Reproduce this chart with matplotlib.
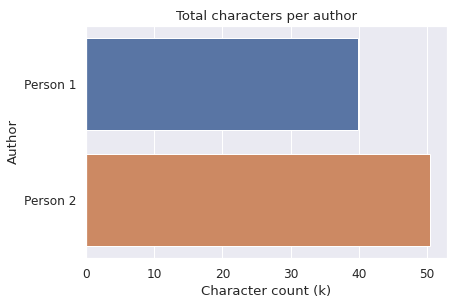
import matplotlib
matplotlib.use("Agg")
import matplotlib.pyplot as plt
import seaborn as sns
import pandas as pd

# Données
authors = ["Person 1", "Person 2"]
char_counts_k = [39.8, 50.4]

sns.set_theme(font_scale=1.1)

df = pd.DataFrame({"Author": authors, "Character count (k)": char_counts_k})

fig = plt.figure(figsize=(452 / 72, 307 / 72), dpi=72)
ax = fig.add_axes([86 / 452, 1 - 258 / 307, (447 - 86) / 452, (258 - 26) / 307])
sns.barplot(data=df, x="Character count (k)", y="Author", hue="Author",
            palette=sns.color_palette()[:2], legend=False, ax=ax)
ax.set_title("Total characters per author")

fig.savefig("out.png", dpi=72)
